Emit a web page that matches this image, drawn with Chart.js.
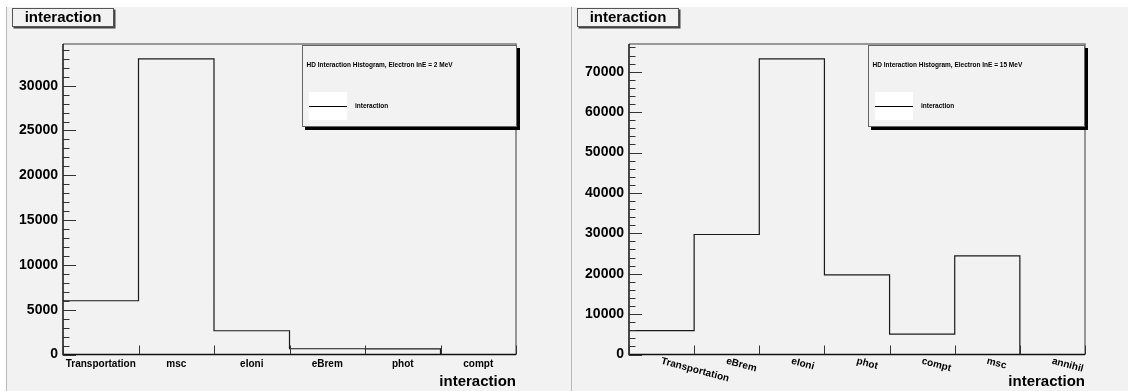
<!DOCTYPE html>
<html>
<head>
<meta charset="utf-8">
<script src="https://cdn.jsdelivr.net/npm/chart.js@4"></script>
<style>
  body { margin: 0; background: #fff; }
  #wrap { position: relative; width: 1128px; height: 391px; overflow: hidden; }
  .pad { position: absolute; top: 0; width: 564px; height: 391px; }
</style>
</head>
<body>
<div id="wrap">
  <div class="pad" style="left:0"><canvas id="c2" width="564" height="391"></canvas></div>
  <div class="pad" style="left:564px"><canvas id="c15" width="564" height="391"></canvas></div>
</div>
<script>
// processes hit in the detector, electron at 2 MeV
const labels2MeV = ['Transportation', 'msc', 'eIoni', 'eBrem', 'phot', 'compt'];
const counts2MeV = [6000, 33000, 2650, 640, 620, 0];

// same at 15 MeV
const labels15MeV = ['Transportation', 'eBrem', 'eIoni', 'phot', 'compt', 'msc', 'annihil'];
const counts15MeV = [5900, 29700, 73200, 19700, 5050, 24400, 0];

// labelled y ticks, and the step of the small unlabelled ones
const yTicks2MeV = [0, 5000, 10000, 15000, 20000, 25000, 30000];
const yTicks15MeV = [0, 10000, 20000, 30000, 40000, 50000, 60000, 70000];
const yMinor2MeV = 1000;
const yMinor15MeV = 2000;

const FONT = '"Liberation Sans", Arial, Helvetica, sans-serif';

// histogram outline: flat top per bin, verticals between bins
function stepPoints(values) {
  const pts = [];
  values.forEach((v, i) => {
    pts.push({x: i, y: v});
    pts.push({x: i + 1, y: v});
  });
  return pts;
}

const rootStyle = {
  id: 'rootStyle',
  beforeDraw(chart, args, o) {
    const ctx = chart.ctx, W = chart.width, H = chart.height;
    ctx.save();
    ctx.fillStyle = '#fff';
    ctx.fillRect(0, 0, W, H);
    ctx.fillStyle = '#f2f2f2';
    ctx.fillRect(o.fillFrom, 7, W - o.fillFrom, H - 7);
    ctx.strokeStyle = '#b8b8b8';
    ctx.lineWidth = 1;
    ctx.beginPath();
    ctx.moveTo(o.padLine, 7);
    ctx.lineTo(o.padLine, H);
    ctx.stroke();
    ctx.restore();
  },
  afterDatasetsDraw(chart, args, o) {
    const {ctx, chartArea: a, scales: {x, y}} = chart;
    ctx.save();
    // frame top / right
    ctx.strokeStyle = '#7a7a7a';
    ctx.lineWidth = 1.5;
    ctx.beginPath();
    ctx.moveTo(a.left, a.top);
    ctx.lineTo(a.right, a.top);
    ctx.lineTo(a.right, a.bottom);
    ctx.stroke();
    // axes
    ctx.strokeStyle = '#111';
    ctx.beginPath();
    ctx.moveTo(a.left, a.top);
    ctx.lineTo(a.left, a.bottom);
    ctx.lineTo(a.right, a.bottom);
    ctx.stroke();
    // y ticks inside frame
    ctx.lineWidth = 1;
    ctx.strokeStyle = '#333';
    for (let v = 0; v <= y.max; v += o.minor) {
      const py = Math.round(y.getPixelForValue(v)) + 0.5;
      const len = o.ticks.includes(v) ? 13 : 6.5;
      ctx.beginPath();
      ctx.moveTo(a.left, py);
      ctx.lineTo(a.left + len, py);
      ctx.stroke();
    }
    // x ticks on bin edges
    for (let i = 0; i <= o.labels.length; i++) {
      const px = Math.round(x.getPixelForValue(i)) + 0.5;
      ctx.beginPath();
      ctx.moveTo(px, a.bottom);
      ctx.lineTo(px, a.bottom - 9);
      ctx.stroke();
    }
    // bin labels
    ctx.fillStyle = '#000';
    ctx.font = 'bold 10px ' + FONT;
    o.labels.forEach((lab, i) => {
      const cx = x.getPixelForValue(i + 0.5);
      if (o.rotate) {
        ctx.save();
        ctx.translate(cx + 1, a.bottom + 1.5);
        ctx.rotate(o.rotate * Math.PI / 180);
        ctx.textAlign = 'left';
        ctx.textBaseline = 'top';
        ctx.fillText(lab, 0, 0);
        ctx.restore();
      } else {
        ctx.textAlign = 'center';
        ctx.textBaseline = 'alphabetic';
        ctx.fillText(lab, cx, a.bottom + 12);
      }
    });
    // axis title
    ctx.font = 'bold 15px ' + FONT;
    ctx.textAlign = 'right';
    ctx.textBaseline = 'alphabetic';
    ctx.fillText('interaction', a.right, a.bottom + 31.5);
    ctx.restore();
  },
  afterDraw(chart, args, o) {
    const ctx = chart.ctx;
    ctx.save();
    // title box
    const tx = o.titleX, ty = 8, tw = 102, th = 19;
    ctx.fillStyle = '#444';
    ctx.fillRect(tx + 1.5, ty + 1.5, tw, th);
    ctx.fillStyle = '#f2f2f2';
    ctx.fillRect(tx, ty, tw, th);
    ctx.strokeStyle = '#555';
    ctx.lineWidth = 1;
    ctx.strokeRect(tx + 0.5, ty + 0.5, tw - 1, th - 1);
    ctx.fillStyle = '#000';
    ctx.font = 'bold 15px ' + FONT;
    ctx.textAlign = 'center';
    ctx.textBaseline = 'middle';
    ctx.fillText('interaction', tx + tw / 2, ty + th / 2);
    // legend box
    const lx = o.legX, ly = 45, lw = o.legW, lh = 82;
    ctx.fillStyle = '#000';
    ctx.fillRect(lx + 3, ly + 3, lw, lh);
    ctx.fillStyle = '#f2f2f2';
    ctx.fillRect(lx, ly, lw, lh);
    ctx.strokeStyle = '#666';
    ctx.strokeRect(lx + 0.5, ly + 0.5, lw - 1, lh - 1);
    ctx.fillStyle = '#000';
    ctx.font = 'bold 6.5px ' + FONT;
    ctx.textAlign = 'left';
    ctx.textBaseline = 'middle';
    ctx.fillText(o.header, lx + 4.5, ly + 20);
    ctx.fillStyle = '#fff';
    ctx.fillRect(lx + 7, ly + 47, 38, 28);
    ctx.strokeStyle = '#000';
    ctx.beginPath();
    ctx.moveTo(lx + 7, ly + 61.5);
    ctx.lineTo(lx + 45, ly + 61.5);
    ctx.stroke();
    ctx.fillStyle = '#000';
    ctx.fillText('interaction', lx + 53, ly + 61.5);
    ctx.restore();
  }
};

function makeChart(id, labels, counts, o) {
  return new Chart(document.getElementById(id), {
    type: 'line',
    data: {
      datasets: [{
        data: stepPoints(counts),
        borderColor: '#1a1a1a',
        borderWidth: 1.2,
        pointRadius: 0,
        fill: false,
        tension: 0,
        clip: false
      }]
    },
    options: {
      responsive: false,
      animation: false,
      events: [],
      layout: { padding: { left: 0, top: 44, right: o.padRight, bottom: 36.5 } },
      plugins: {
        legend: { display: false },
        tooltip: { enabled: false },
        rootStyle: o
      },
      scales: {
        x: { type: 'linear', display: false, min: 0, max: labels.length },
        y: {
          min: 0,
          max: Math.max(...counts) * 1.05,
          afterBuildTicks: s => { s.ticks = o.ticks.map(v => ({value: v})); },
          afterFit: s => { s.width = o.axisLeft; },
          grid: { display: false, drawTicks: false },
          border: { display: false },
          ticks: {
            autoSkip: false,
            padding: 5,
            color: '#000',
            font: { family: FONT, size: 14, weight: 'bold' },
            callback: v => String(v)
          }
        }
      }
    },
    plugins: [rootStyle]
  });
}

makeChart('c2', labels2MeV, counts2MeV, {
  labels: labels2MeV, ticks: yTicks2MeV, minor: yMinor2MeV,
  axisLeft: 63, padRight: 48, rotate: 0,
  fillFrom: 6, padLine: 6.5, titleX: 12,
  legX: 302, legW: 215,
  header: 'HD Interaction Histogram, Electron InE = 2 MeV'
});

makeChart('c15', labels15MeV, counts15MeV, {
  labels: labels15MeV, ticks: yTicks15MeV, minor: yMinor15MeV,
  axisLeft: 65, padRight: 43, rotate: 15,
  fillFrom: 0, padLine: 7.5, titleX: 13,
  legX: 304, legW: 217,
  header: 'HD Interaction Histogram, Electron InE = 15 MeV'
});
</script>
</body>
</html>
